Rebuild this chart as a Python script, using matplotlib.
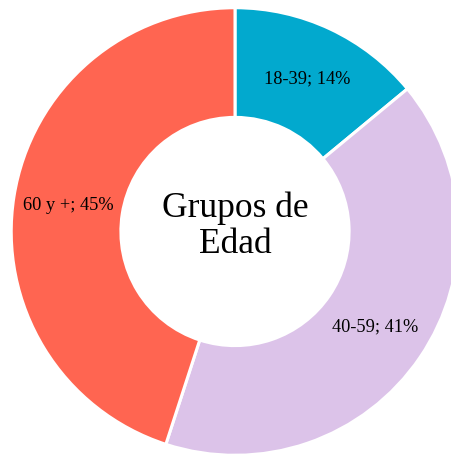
import matplotlib
matplotlib.use("Agg")
import matplotlib.pyplot as plt

# Datos del gráfico
grupos = ["18-39", "40-59", "60 y +"]
porcentajes = [14, 41, 45]
colores = ["#02A9CE", "#DCC3E9", "#FF6551"]
titulo_centro = "Grupos de\nEdad"

plt.rcParams["font.family"] = ["Liberation Serif", "DejaVu Serif"]

fig = plt.figure(figsize=(4.52, 4.54), dpi=100)
ax = fig.add_axes([0, 0, 1, 1])

etiquetas = iter(f"{g}; {p}%" for g, p in zip(grupos, porcentajes))

wedges, textos, autotextos = ax.pie(
    porcentajes,
    colors=colores,
    startangle=90,
    counterclock=False,
    radius=1.008,
    autopct=lambda pct: next(etiquetas),
    pctdistance=0.755,
    wedgeprops=dict(width=0.494, edgecolor="white", linewidth=2.2),
    textprops=dict(fontsize=13.2, color="black"),
)

ax.text(0, 0.022, titulo_centro, ha="center", va="center",
        fontsize=25.5, linespacing=1.13)

# centro en (235, 231.5) px, radio 222 px
R = 222.0
ax.set_xlim(-235 / R, (452 - 235) / R)
ax.set_ylim((231.5 - 454) / R, 231.5 / R)
ax.set_aspect("equal")
ax.axis("off")

fig.savefig("out.png", dpi=100)
